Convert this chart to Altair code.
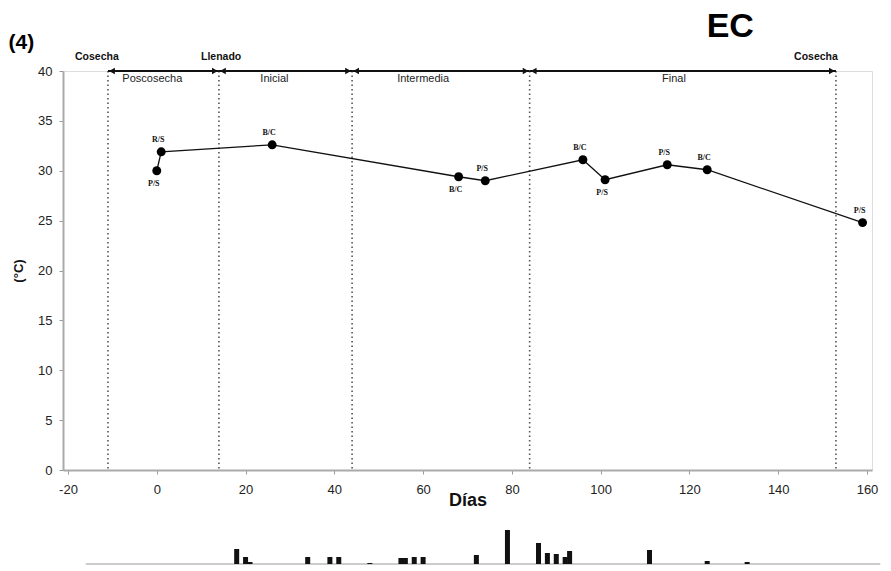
import altair as alt
import pandas as pd

# ---- data ----
days = [0, 1, 26, 68, 74, 96, 101, 115, 124, 159]
temps = [30.0, 31.9, 32.6, 29.4, 29.0, 31.1, 29.1, 30.6, 30.1, 24.8]
tags = ["P/S", "R/S", "B/C", "B/C", "P/S", "B/C", "P/S", "P/S", "B/C", "P/S"]
tag_side = ["below", "above", "above", "below", "above", "above", "below", "above", "above", "above"]

phase_bounds = [-11, 14, 44, 84, 153]
phase_names = ["Poscosecha", "Inicial", "Intermedia", "Final"]
phase_label_day = [-1, 26.5, 60, 116.5]
event_names = ["Cosecha", "Llenado", "Cosecha"]
event_day = [-13.5, 14.5, 148.5]

rain_day = [18, 20, 21, 34, 39, 41, 48, 55, 56, 58, 60, 72, 79, 86, 88, 90, 92, 93, 111, 124, 133]
rain_mm = [15, 7, 2, 7, 7, 7, 1, 6, 6, 7, 7, 9, 34, 21, 11, 10, 7, 13, 14, 3, 2]

x_ticks = [-20, 0, 20, 40, 60, 80, 100, 120, 140, 160]
y_ticks = [0, 5, 10, 15, 20, 25, 30, 35, 40]

W, H = 809, 399
FONT = "Liberation Sans"

pts = pd.DataFrame({"day": days, "temp": temps, "tag": tags, "side": tag_side})
bounds = pd.DataFrame({"day": phase_bounds, "top": [40] * len(phase_bounds)})
phases = pd.DataFrame({
    "start": phase_bounds[:-1], "end": phase_bounds[1:], "name": phase_names,
    "lab": phase_label_day, "lvl": [40] * len(phase_names)})
events = pd.DataFrame({"day": event_day, "name": event_names, "lvl": [41.4] * 3})
rain = pd.DataFrame({"day": rain_day, "mm": rain_mm})
rain_base = pd.DataFrame({"start": [-16], "end": [163], "mm": [0]})
labels = pd.DataFrame({"day": [-30.5, 129.2], "lvl": [42.8, 44.4], "txt": ["(4)", "EC"], "size": [21, 34]})

xs = alt.Scale(domain=[-20, 160], nice=False, zero=False)
ys = alt.Scale(domain=[0, 40], nice=False)

xaxis = alt.Axis(values=x_ticks, title="Días", grid=False, labelFont=FONT, labelFontSize=13,
                 labelExpr="'' + datum.value",
                 labelColor="#222", domainColor="#aaa", domainWidth=2, tickColor="#999",
                 tickSize=4, labelPadding=9, titleFont=FONT, titleFontSize=18,
                 titleFontWeight="bold", titleColor="#111", titleY=30, titleBaseline="middle")
yaxis = alt.Axis(values=y_ticks, title="(°C)", grid=False, labelFont=FONT, labelFontSize=13,
                 labelColor="#222", domainColor="#aaa", domainWidth=2, tickColor="#999",
                 tickSize=4, labelPadding=7, titleFont=FONT, titleFontSize=13,
                 titleFontWeight="bold", titleColor="#111", titleX=-45, titleY=H / 2,
                 titleAngle=270, titleBaseline="middle", titleAlign="center")


def X(f):
    return alt.X(f, type="quantitative", scale=xs, axis=xaxis)


def Y(f):
    return alt.Y(f, type="quantitative", scale=ys, axis=yaxis)


dotted = alt.Chart(bounds).mark_rule(color="#555", strokeWidth=1.6, strokeDash=[1.5, 3]).encode(
    x=X("day"), y=Y("top"), y2=alt.datum(0))

arrow_line = alt.Chart(phases).mark_rule(color="#111", strokeWidth=1.8).encode(
    x=X("start"), x2="end", y=Y("lvl"))
arrow_l = alt.Chart(phases).mark_point(shape="triangle-left", filled=True, color="#111",
                                       size=45, opacity=1, xOffset=4).encode(x=X("start"), y=Y("lvl"))
arrow_r = alt.Chart(phases).mark_point(shape="triangle-right", filled=True, color="#111",
                                       size=45, opacity=1, xOffset=-4).encode(x=X("end"), y=Y("lvl"))
phase_txt = alt.Chart(phases).mark_text(font=FONT, fontSize=11, color="#222", baseline="middle",
                                        dy=8).encode(x=X("lab"), y=Y("lvl"), text="name")
event_txt = alt.Chart(events).mark_text(font=FONT, fontSize=10.5, fontWeight="bold", color="#111",
                                        baseline="middle").encode(x=X("day"), y=Y("lvl"), text="name")

line = alt.Chart(pts).mark_line(color="#111", strokeWidth=1.3).encode(x=X("day"), y=Y("temp"))
dots = alt.Chart(pts).mark_point(filled=True, color="#000", size=80, opacity=1).encode(
    x=X("day"), y=Y("temp"))
tag_up = alt.Chart(pts).transform_filter(alt.datum.side == "above").mark_text(
    font="Liberation Serif", fontSize=8, fontWeight="bold", color="#111", dy=-12, dx=-3).encode(
    x=X("day"), y=Y("temp"), text="tag")
tag_dn = alt.Chart(pts).transform_filter(alt.datum.side == "below").mark_text(
    font="Liberation Serif", fontSize=8, fontWeight="bold", color="#111", dy=13, dx=-3).encode(
    x=X("day"), y=Y("temp"), text="tag")

big_txt = alt.Chart(labels).mark_text(font=FONT, fontWeight="bold", color="#000",
                                      baseline="middle").encode(
    x=X("day"), y=Y("lvl"), text="txt", size=alt.Size("size:Q", scale=None, legend=None))

main = alt.layer(dotted, arrow_line, arrow_l, arrow_r, phase_txt, event_txt, line, dots,
                 tag_up, tag_dn, big_txt)

rs = alt.Scale(domain=[0, 34], range=[H + 94, H + 60])
rain_line = alt.Chart(rain_base).mark_rule(color="#999", strokeWidth=1.2).encode(
    x=X("start"), x2="end", y=alt.Y("mm:Q", scale=rs, axis=None))
rain_bars = alt.Chart(rain).mark_bar(color="#111", size=5).encode(
    x=X("day"), y=alt.Y("mm:Q", scale=rs, axis=None))
bottom = alt.layer(rain_line, rain_bars)

chart = alt.layer(main, bottom).resolve_scale(y="independent").properties(
    width=W, height=H, padding={"left": 63, "top": 71, "right": 19, "bottom": 101},
    autosize=alt.AutoSizeParams(type="none")
).configure_view(stroke=None).configure(background="white")

chart.save("out.html", embed_options={"renderer": "svg", "actions": False})
